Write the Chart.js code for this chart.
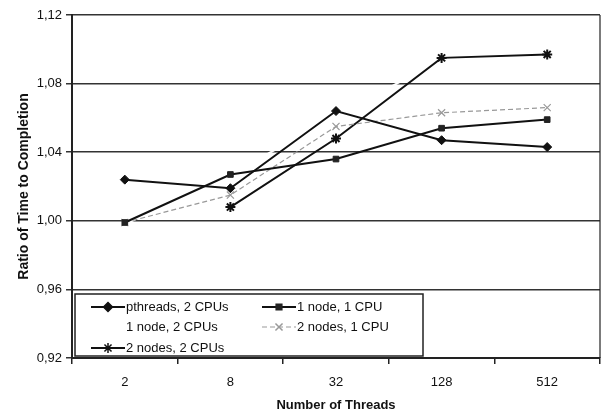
<!DOCTYPE html>
<html>
<head>
<meta charset="utf-8">
<script src="https://cdn.jsdelivr.net/npm/chart.js@4.4.1/dist/chart.umd.min.js"></script>
<style>
  html, body { margin: 0; padding: 0; background: #fff; }
  #wrap { width: 607px; height: 415px; position: relative; }
</style>
</head>
<body>
<div id="wrap"><canvas id="c" width="607" height="415"></canvas></div>
<script>
const categories = ['2', '8', '32', '128', '512'];
const pthreads2CPU = [1.024, 1.019, 1.064, 1.047, 1.043];
const node1CPU1 = [0.999, 1.027, 1.036, 1.054, 1.059];
const node1CPU2 = [0.998, 1.027, 1.061, 1.094, 1.098];
const nodes2CPU1 = [0.999, 1.015, 1.055, 1.063, 1.066];
const nodes2CPU2 = [null, 1.008, 1.048, 1.095, 1.097];
const seriesNames = ['pthreads, 2 CPUs', '1 node, 1 CPU', '1 node, 2 CPUs', '2 nodes, 1 CPU', '2 nodes, 2 CPUs'];
const yTicks = [0.92, 0.96, 1.00, 1.04, 1.08, 1.12];

const FONT = "'Liberation Sans', Arial, sans-serif";

const frameAndLegend = {
  id: 'frameAndLegend',
  beforeDatasetsDraw(chart) {
    const { ctx, chartArea: a } = chart;
    ctx.save();
    ctx.strokeStyle = '#222';
    ctx.lineWidth = 1.2;
    ctx.beginPath();
    ctx.moveTo(a.right, a.top);
    ctx.lineTo(a.right, a.bottom);
    ctx.stroke();
    ctx.restore();
  },
  afterDatasetsDraw(chart) {
    const { ctx, chartArea: a } = chart;
    const bx = a.left + 3, by = a.bottom - 64, bw = 348, bh = 62;
    ctx.save();
    ctx.fillStyle = '#fff';
    ctx.fillRect(bx, by, bw, bh);
    ctx.strokeStyle = '#222';
    ctx.lineWidth = 1.5;
    ctx.strokeRect(bx, by, bw, bh);
    ctx.font = '13px ' + FONT;
    ctx.textBaseline = 'middle';
    ctx.textAlign = 'left';
    const colX = [bx + 16, bx + 187];
    const rowY = [by + 13, by + 33, by + 54];
    chart.data.datasets.forEach((ds, i) => {
      const col = i % 2, row = Math.floor(i / 2);
      const x0 = colX[col], y = rowY[row];
      const x1 = x0 + 34;
      if (ds.showInLegendLine !== false) {
        ctx.save();
        ctx.strokeStyle = ds.borderColor;
        ctx.lineWidth = ds.borderWidth;
        ctx.setLineDash(ds.borderDash || []);
        ctx.beginPath();
        ctx.moveTo(x0, y);
        ctx.lineTo(x1, y);
        ctx.stroke();
        ctx.restore();
        if (ds.pointStyle) {
          ctx.save();
          ctx.fillStyle = ds.pointBackgroundColor;
          ctx.strokeStyle = ds.pointBorderColor;
          Chart.helpers.drawPoint(ctx, {
            pointStyle: ds.pointStyle,
            radius: ds.pointRadius,
            rotation: 0,
            borderWidth: ds.pointBorderWidth
          }, (x0 + x1) / 2, y);
          ctx.restore();
        }
      }
      ctx.fillStyle = '#111';
      ctx.fillText(ds.label, x1 + 1, y);
    });
    ctx.restore();
  }
};

new Chart(document.getElementById('c'), {
  type: 'line',
  data: {
    labels: categories,
    datasets: [
      {
        label: seriesNames[0], data: pthreads2CPU, order: 0,
        borderColor: '#111', borderWidth: 2,
        pointStyle: 'rectRot', pointRadius: 4.5,
        pointBackgroundColor: '#111', pointBorderColor: '#111', pointBorderWidth: 1
      },
      {
        label: seriesNames[1], data: node1CPU1, order: 0,
        borderColor: '#111', borderWidth: 2,
        pointStyle: 'rect', pointRadius: 4,
        pointBackgroundColor: '#222', pointBorderColor: '#222', pointBorderWidth: 1
      },
      {
        label: seriesNames[2], data: node1CPU2, order: 5,
        borderColor: '#fff', borderWidth: 2,
        pointStyle: false, pointRadius: 0,
        showInLegendLine: false
      },
      {
        label: seriesNames[3], data: nodes2CPU1, order: 0,
        borderColor: '#999', borderWidth: 1.2, borderDash: [5, 3],
        pointStyle: 'crossRot', pointRadius: 5,
        pointBackgroundColor: '#999', pointBorderColor: '#999', pointBorderWidth: 1.2
      },
      {
        label: seriesNames[4], data: nodes2CPU2, order: 0,
        borderColor: '#111', borderWidth: 2,
        pointStyle: 'star', pointRadius: 5,
        pointBackgroundColor: '#111', pointBorderColor: '#111', pointBorderWidth: 2
      }
    ]
  },
  options: {
    responsive: false,
    animation: false,
    layout: { padding: { left: 0, top: 15, right: 3, bottom: 0 } },
    plugins: { legend: { display: false }, tooltip: { enabled: false } },
    elements: { line: { tension: 0 } },
    scales: {
      x: {
        offset: true,
        grid: { offset: true, drawOnChartArea: false, tickLength: 6, color: '#222', lineWidth: 1.5 },
        border: { color: '#222', width: 2 },
        ticks: { color: '#111', font: { family: FONT, size: 13 }, padding: 11, maxRotation: 0 },
        title: { display: true, text: 'Number of Threads', color: '#111', font: { family: FONT, size: 13, weight: 'bold' }, padding: { top: 0, bottom: 2 } },
        afterFit(s) { s.height = 57; }
      },
      y: {
        min: 0.92, max: 1.12,
        afterBuildTicks(s) { s.ticks = yTicks.map(v => ({ value: v })); },
        grid: { color: '#333', lineWidth: 1.5, tickLength: 6 },
        border: { color: '#222', width: 2 },
        ticks: { color: '#111', font: { family: FONT, size: 13 }, padding: 4,
          callback: v => Number(v).toFixed(2).replace('.', ',') },
        title: { display: true, text: 'Ratio of Time to Completion', color: '#111', font: { family: FONT, size: 14, weight: 'bold' }, padding: { top: 16, bottom: 0 } },
        afterFit(s) { s.width = 72; }
      }
    }
  },
  plugins: [frameAndLegend]
});
</script>
</body>
</html>
